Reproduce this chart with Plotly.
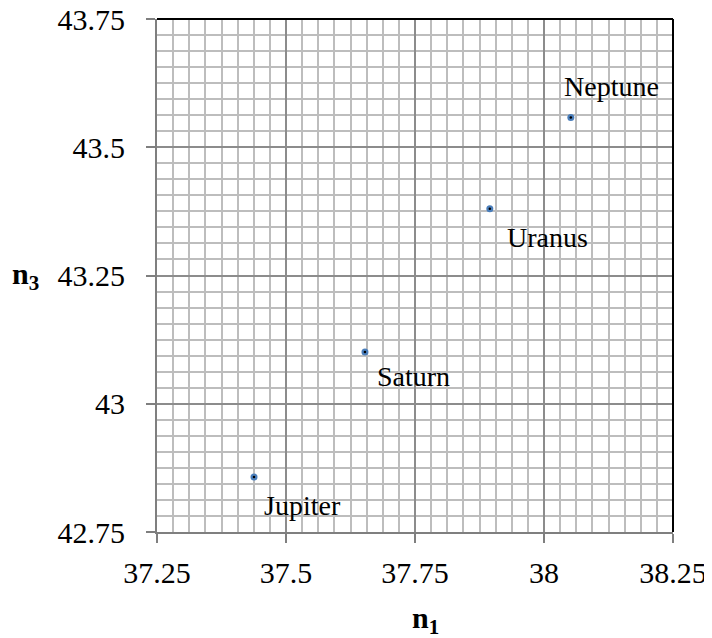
import plotly.graph_objects as go

planets = ["Jupiter", "Saturn", "Uranus", "Neptune"]
n1 = [37.438, 37.653, 37.895, 38.052]
n3 = [42.857, 43.101, 43.380, 43.558]
x_ticks = [37.25, 37.5, 37.75, 38.0, 38.25]
x_tick_text = ["37.25", "37.5", "37.75", "38", "38.25"]
y_ticks = [42.75, 43.0, 43.25, 43.5, 43.75]
y_tick_text = ["42.75", "43", "43.25", "43.5", "43.75"]

# label offsets in pixels (x, y) from each point
label_shift = {"Jupiter": (8, -28), "Saturn": (10, -25), "Uranus": (15, -29), "Neptune": (-9, 31)}

serif = "Liberation Serif, Times New Roman, serif"

fig = go.Figure()
fig.add_trace(go.Scatter(x=n1, y=n3, mode="markers",
                         marker=dict(color="#4a7ebb", size=7, line=dict(width=0)),
                         showlegend=False, hoverinfo="skip"))
fig.add_trace(go.Scatter(x=n1, y=n3, mode="markers",
                         marker=dict(color="black", size=2.5, line=dict(width=0)),
                         showlegend=False, text=planets))

for name, x, y in zip(planets, n1, n3):
    dx, dy = label_shift[name]
    fig.add_annotation(x=x, y=y, text=name, showarrow=False, xanchor="left",
                       xshift=dx, yshift=dy, font=dict(family=serif, size=28, color="black"))

axis_common = dict(showgrid=True, gridcolor="#8c8c8c", gridwidth=1.5,
                   showline=True, linecolor="#7f7f7f", linewidth=2,
                   ticks="outside", ticklen=9, tickcolor="#7f7f7f", tickwidth=1.5,
                   zeroline=False, automargin=False, ticklabeloverflow="allow",
                   tickfont=dict(family=serif, size=30, color="black"))

fig.update_xaxes(range=[37.25, 38.25], tickvals=x_ticks, ticktext=x_tick_text,
                 minor=dict(dtick=0.03125, tick0=37.25, showgrid=True,
                            gridcolor="#bdbdbd", gridwidth=1.5, ticks=""),
                 ticklabelstandoff=4, **axis_common)
fig.update_yaxes(range=[42.75, 43.75], tickvals=y_ticks, ticktext=y_tick_text,
                 minor=dict(dtick=0.03125, tick0=42.75, showgrid=True,
                            gridcolor="#bdbdbd", gridwidth=1.5, ticks=""),
                 ticklabelstandoff=15, **axis_common)

# black border on top and right side of the plot area
fig.add_shape(type="line", xref="paper", yref="paper", x0=0, x1=1, y0=1, y1=1,
              line=dict(color="black", width=2))
fig.add_shape(type="line", xref="paper", yref="paper", x0=1, x1=1, y0=0, y1=1,
              line=dict(color="black", width=2))

fig.add_annotation(xref="paper", yref="paper", x=0.52, y=-0.172, yanchor="middle",
                   text="<b>n</b><sub><b>1</b></sub>", showarrow=False,
                   font=dict(family=serif, size=30, color="black"))
fig.add_annotation(xref="paper", yref="paper", x=-0.285, y=0.5, xanchor="left", yanchor="middle",
                   text="<b>n</b><sub><b>3</b></sub>", showarrow=False,
                   font=dict(family=serif, size=30, color="black"))

# page body adds an 8px margin, so the figure is 8px smaller than the window
fig.update_layout(width=704, height=630, margin=dict(l=149, r=39, t=11, b=106),
                  plot_bgcolor="white", paper_bgcolor="white")

fig.write_html("out.html")
